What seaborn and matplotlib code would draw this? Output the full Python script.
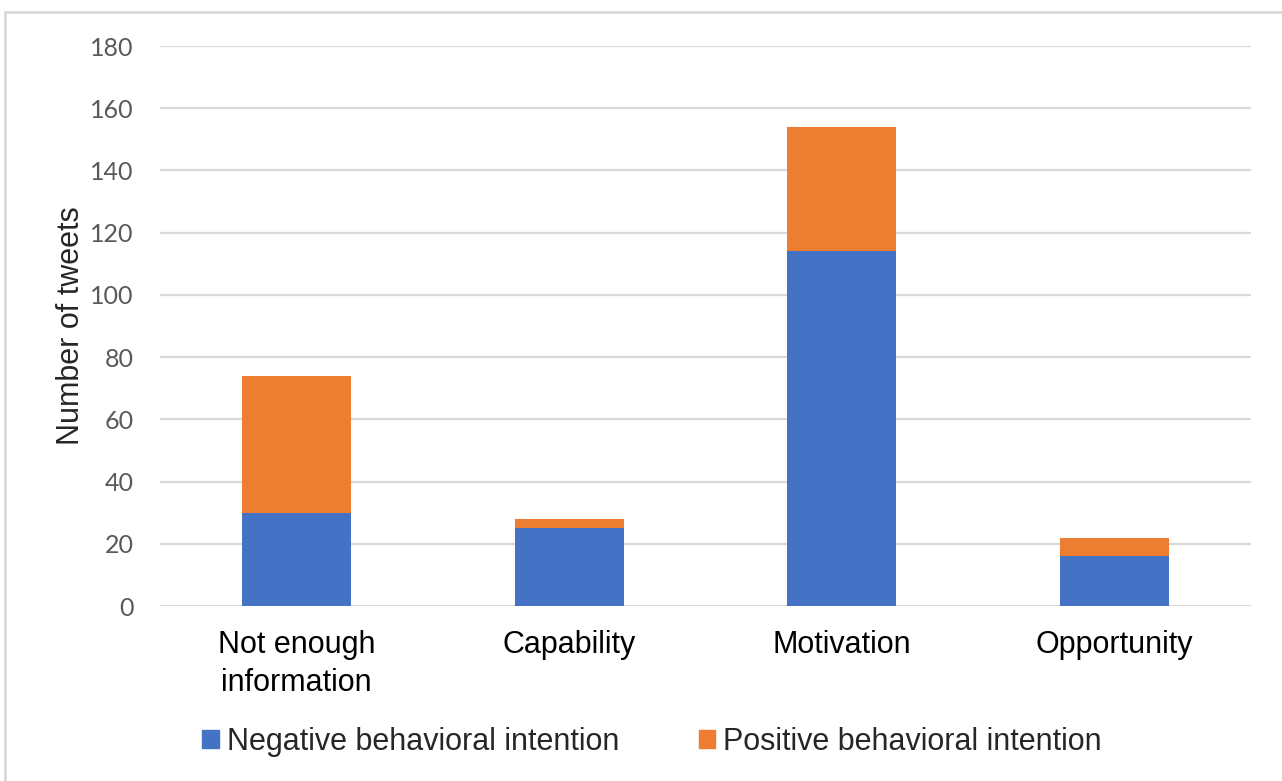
import pandas as pd
import matplotlib
matplotlib.use("Agg")
import matplotlib.pyplot as plt
import seaborn as sns
from matplotlib.patches import Rectangle, Patch

# ----------------------
# Data
# ----------------------

categories = ["Not enough\ninformation", "Capability", "Motivation", "Opportunity"]
negative = [30, 25, 114, 16]
positive = [44, 3, 40, 6]
series_names = ["Negative behavioral intention", "Positive behavioral intention"]
y_ticks = [0, 20, 40, 60, 80, 100, 120, 140, 160, 180]

BLUE = "#4472c4"
ORANGE = "#ed7d31"
GRID = "#d9d9d9"

df = pd.DataFrame({
    "category": categories,
    "negative": negative,
    "total": [n + p for n, p in zip(negative, positive)],
})

# ----------------------
# Plot
# ----------------------

sns.set_style("white")
plt.rcParams["font.family"] = ["Liberation Sans", "DejaVu Sans"]

fig = plt.figure(figsize=(12.82, 7.81), dpi=100)
ax = fig.add_axes([160 / 1282, 175 / 781, (1251 - 160) / 1282, (606 - 46) / 781])

# stacked: draw totals (orange) then negatives (blue) on top
sns.barplot(data=df, x="category", y="total", color=ORANGE, width=0.4,
            saturation=1, linewidth=0, ax=ax, zorder=3)
sns.barplot(data=df, x="category", y="negative", color=BLUE, width=0.4,
            saturation=1, linewidth=0, ax=ax, zorder=4)

ax.set_ylim(0, 180)
ax.set_xlim(-0.5, len(categories) - 0.5)
ax.set_yticks(y_ticks)
ax.yaxis.grid(True, color=GRID, linewidth=1.6, zorder=0)
ax.set_axisbelow(True)
for s in ax.spines.values():
    s.set_visible(False)

ax.tick_params(axis="both", length=0)
ax.tick_params(axis="y", pad=19, labelsize=18, labelcolor="#595959")
ax.tick_params(axis="x", pad=17, labelsize=22, labelcolor="black")
for lbl in ax.get_yticklabels():
    lbl.set_family(["Lato", "DejaVu Sans"])
for lbl in ax.get_xticklabels():
    lbl.set_linespacing(1.35)

ax.set_xlabel("")
ax.set_ylabel("Number of tweets", fontsize=22, labelpad=3)

handles = [Patch(color=BLUE, label=series_names[0]),
           Patch(color=ORANGE, label=series_names[1])]
fig.legend(handles=handles, loc="center", bbox_to_anchor=(652 / 1282, 1 - 742 / 781),
           ncol=2, frameon=False, fontsize=22, handlelength=0.55, handleheight=0.55,
           handletextpad=0.25, columnspacing=2.6)

# outer frame
fig.patches.append(Rectangle((5 / 1282, -0.1), 1.2, 0.1 + (781 - 12) / 781,
                             transform=fig.transFigure, fill=False,
                             edgecolor=GRID, linewidth=2))

fig.savefig("out.png", dpi=100)
